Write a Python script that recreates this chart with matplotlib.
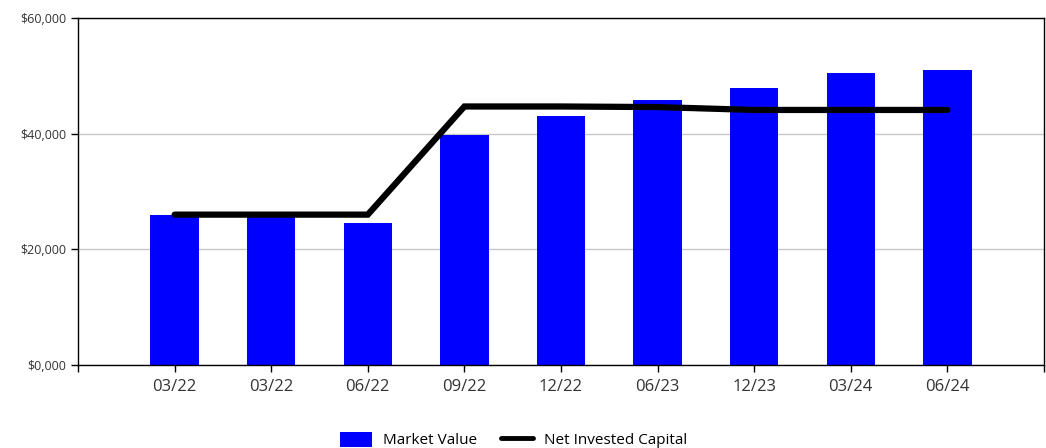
import matplotlib.pyplot as plt
from matplotlib.ticker import FuncFormatter

# dates and values
labels = ['03/22', '03/22', '06/22', '09/22', '12/22', '06/23', '12/23', '03/24', '06/24']
market_value = [26000, 25700, 24500, 39700, 43000, 45900, 47900, 50500, 51000]
net_invested = [26000, 26000, 26000, 44700, 44700, 44600, 44100, 44100, 44100]

plt.rcParams['font.family'] = ['Open Sans', 'DejaVu Sans']

fig = plt.figure(figsize=(10.46, 4.48), dpi=100)
ax = fig.add_axes([78 / 1046, 83 / 448, 966 / 1046, 347 / 448])

x = list(range(len(labels)))
bars = ax.bar(x, market_value, width=0.5, color='#0000ff', label='Market Value', zorder=2)
line, = ax.plot(x, net_invested, color='black', linewidth=4.5, solid_capstyle='round',
                solid_joinstyle='miter', label='Net Invested Capital', zorder=3)

ax.set_xlim(-1, len(labels))
ax.set_ylim(0, 60000)
ax.set_xticks(x)
ax.set_xticklabels(labels, fontsize=12, color='#333333')
ax.set_xticks([-1, len(labels)], minor=True)
ax.set_yticks([0, 20000, 40000, 60000])
ax.yaxis.set_major_formatter(FuncFormatter(lambda v, p: '$%d,%03d' % (v // 1000, v % 1000)))
ax.tick_params(axis='y', labelsize=9, labelcolor='#333333', length=5, width=1)
ax.tick_params(axis='x', which='both', length=5, width=1, pad=5)

ax.grid(axis='y', color='#c8c8c8', linewidth=1, zorder=0)
ax.set_axisbelow(True)
for s in ax.spines.values():
    s.set_linewidth(1)
    s.set_color('black')

# legend at the bottom, partly cut off like the original
leg = fig.legend([bars, line], ['Market Value', 'Net Invested Capital'],
                 loc='center', bbox_to_anchor=(0.491, 8 / 448), ncol=2, frameon=False,
                 fontsize=11, handlelength=2.1, handleheight=1.2,
                 columnspacing=1.6, handletextpad=0.7)
for h in leg.get_lines():
    h.set_linewidth(3.5)

fig.savefig('out.png', dpi=100)
